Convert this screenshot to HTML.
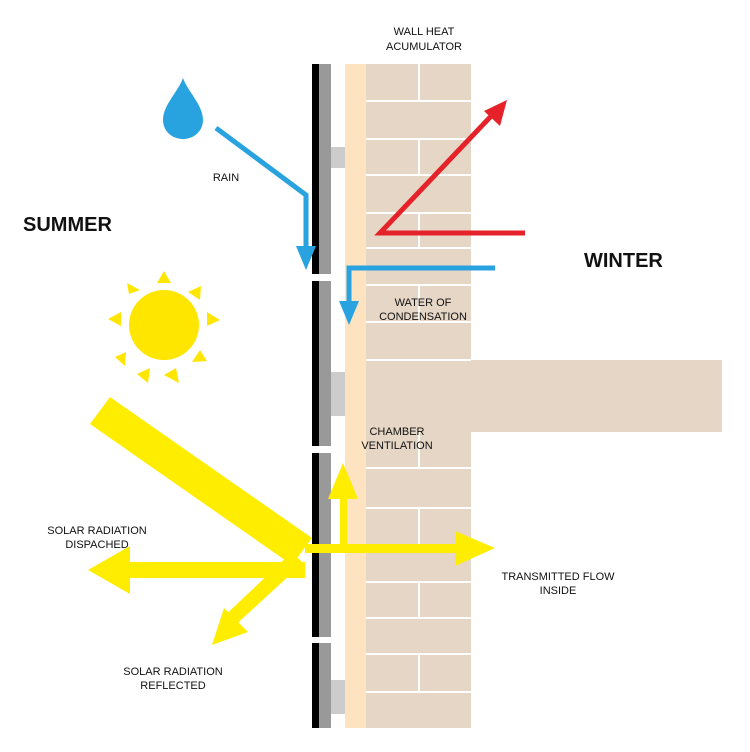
<!DOCTYPE html>
<html><head><style>
body{margin:0;background:#fff;}
svg{display:block;}
text{font-family:"Liberation Sans",sans-serif;fill:#111;}
</style></head><body>
<svg width="750" height="752" viewBox="0 0 750 752" xmlns="http://www.w3.org/2000/svg">
<!-- brick wall -->
<rect x="366" y="64" width="105" height="664" fill="#e6d6c5"/>
<rect x="366" y="360" width="356" height="72" fill="#e6d6c5"/>
<g stroke="#fff" stroke-width="2">
<line x1="366" y1="101" x2="471" y2="101"/><line x1="366" y1="139" x2="471" y2="139"/>
<line x1="366" y1="175" x2="471" y2="175"/><line x1="366" y1="213" x2="471" y2="213"/>
<line x1="366" y1="248" x2="471" y2="248"/><line x1="366" y1="285" x2="471" y2="285"/>
<line x1="366" y1="322" x2="471" y2="322"/><line x1="366" y1="360" x2="471" y2="360"/>
<line x1="366" y1="468" x2="471" y2="468"/><line x1="366" y1="508" x2="471" y2="508"/>
<line x1="366" y1="546" x2="471" y2="546"/><line x1="366" y1="582" x2="471" y2="582"/>
<line x1="366" y1="618" x2="471" y2="618"/><line x1="366" y1="654" x2="471" y2="654"/>
<line x1="366" y1="692" x2="471" y2="692"/>
<line x1="419" y1="64" x2="419" y2="101"/><line x1="419" y1="139" x2="419" y2="175"/>
<line x1="419" y1="213" x2="419" y2="248"/><line x1="419" y1="285" x2="419" y2="322"/>
<line x1="419" y1="432" x2="419" y2="468"/><line x1="419" y1="508" x2="419" y2="546"/>
<line x1="419" y1="582" x2="419" y2="618"/><line x1="419" y1="654" x2="419" y2="692"/>
</g>
<rect x="345" y="64" width="21" height="664" fill="#fde3c0"/>
<!-- cladding -->
<g>
<rect x="312" y="64" width="7" height="210" fill="#000"/><rect x="319" y="64" width="12" height="210" fill="#999"/>
<rect x="312" y="281" width="7" height="165" fill="#000"/><rect x="319" y="281" width="12" height="165" fill="#999"/>
<rect x="312" y="453" width="7" height="184" fill="#000"/><rect x="319" y="453" width="12" height="184" fill="#999"/>
<rect x="312" y="643" width="7" height="85" fill="#000"/><rect x="319" y="643" width="12" height="85" fill="#999"/>
<rect x="331" y="147" width="14" height="21" fill="#ccc"/>
<rect x="331" y="372" width="14" height="44" fill="#ccc"/>
<rect x="331" y="680" width="14" height="34" fill="#ccc"/>
</g>
<!-- drop -->
<path d="M183 78 C178 92 163 105 163 120 C163 131 172 139 183 139 C194 139 203 131 203 120 C203 105 188 92 183 78Z" fill="#29a3df"/>
<!-- rain arrow -->
<polyline points="216,128 306,195 306,255" fill="none" stroke="#29a3df" stroke-width="5"/>
<polygon points="296,246 316,246 306,270" fill="#29a3df"/>
<!-- condensation -->
<polyline points="495,268 349,268 349,310" fill="none" stroke="#29a3df" stroke-width="5"/>
<polygon points="339,301 359,301 349,325" fill="#29a3df"/>
<!-- red -->
<polyline points="525,233 380,233 495,112" fill="none" stroke="#e52229" stroke-width="5"/>
<polygon points="507,100 500,126 484,111" fill="#e52229"/>
<!-- sun -->
<circle cx="164" cy="325" r="35" fill="#ffe600"/>
<g fill="#ffe600">
<polygon points="157,283 171,283 164,271"/>
<polygon points="188,292 200,300 201,286"/>
<polygon points="207,312 207,326 220,320"/>
<polygon points="200,350 192,362 207,361"/>
<polygon points="176,368 164,375 179,383"/>
<polygon points="150,368 137,374 148,383"/>
<polygon points="126,352 115,357 125,366"/>
<polygon points="121,312 121,326 108,319"/>
<polygon points="129,294 140,290 127,283"/>
</g>
<!-- solar beams -->
<g fill="#ffed00">
<polygon points="110,397 90,424 292,565 312,538"/>
<rect x="115" y="562" width="190" height="16"/>
<polygon points="88,570 130,546 130,594"/>
<polygon points="292,552 303,563 230,630 220,620"/>
<polygon points="212,645 224,608 248,632"/>
<rect x="305" y="544" width="160" height="9"/>
<polygon points="495,548 455,531 455,566"/>
<rect x="340" y="490" width="7" height="58"/>
<polygon points="343,463 328,499 358,499"/>
</g>
<!-- labels -->
<g font-size="11" text-anchor="middle">
<text x="424" y="35">WALL HEAT</text><text x="424" y="50">ACUMULATOR</text>
<text x="226" y="181">RAIN</text>
<text x="423" y="306">WATER OF</text><text x="423" y="320">CONDENSATION</text>
<text x="397" y="435">CHAMBER</text><text x="397" y="449">VENTILATION</text>
<text x="97" y="534">SOLAR RADIATION</text><text x="97" y="548">DISPACHED</text>
<text x="558" y="580">TRANSMITTED FLOW</text><text x="558" y="594">INSIDE</text>
<text x="173" y="675">SOLAR RADIATION</text><text x="173" y="689">REFLECTED</text>
</g>
<g font-size="20" font-weight="bold">
<text x="23" y="231">SUMMER</text>
<text x="584" y="267">WINTER</text>
</g>
</svg>
</body></html>
